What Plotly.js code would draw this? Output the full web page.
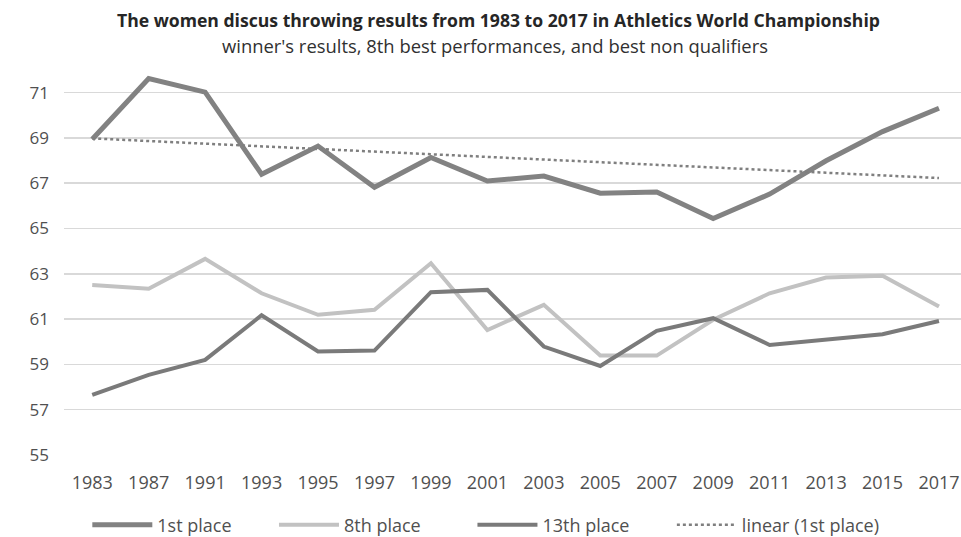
<!DOCTYPE html>
<html>
<head>
<meta charset="utf-8">
<script src="https://cdn.plot.ly/plotly-3.0.1.min.js"></script>
<style>html,body{margin:0;padding:0;background:#fff;}#chart{width:961px;height:537px;}</style>
</head>
<body>
<div id="chart"></div>
<script>
const years = ["1983","1987","1991","1993","1995","1997","1999","2001","2003","2005","2007","2009","2011","2013","2015","2017"];
const first = [68.94,71.62,71.02,67.40,68.64,66.82,68.14,67.10,67.32,66.56,66.61,65.44,66.52,67.99,69.28,70.31];
const eighth = [62.51,62.34,63.66,62.14,61.19,61.41,63.47,60.52,61.63,59.39,59.39,60.97,62.14,62.84,62.91,61.56];
const thirteenth = [57.65,58.54,59.20,61.17,59.57,59.61,62.19,62.29,59.79,58.93,60.48,61.04,59.86,60.08,60.33,60.92];
const trendYears = ["1983","2017"];
const trendValues = [68.98,67.23];
const yTicks = [55,57,59,61,63,65,67,69,71];
const seriesNames = ["1st place","8th place","13th place","linear (1st place)"];
const titleText = "The women discus throwing results from 1983 to 2017 in Athletics World Championship";
const subtitleText = "winner's results, 8th best performances, and best non qualifiers";

const FONT = "'Open Sans', sans-serif";
const pad = n => "\u00a0".repeat(n);
const traces = [
  {x: years, y: first, name: seriesNames[0] + pad(8), type: "scatter", mode: "lines",
   line: {color: "#828282", width: 5}},
  {x: years, y: eighth, name: seriesNames[1] + pad(10), type: "scatter", mode: "lines",
   line: {color: "#c2c2c2", width: 4}},
  {x: years, y: thirteenth, name: seriesNames[2] + pad(8), type: "scatter", mode: "lines",
   line: {color: "#7a7a7a", width: 4}},
  {x: trendYears, y: trendValues, name: seriesNames[3], type: "scatter", mode: "lines",
   line: {color: "#7f7f7f", width: 2.5, dash: "dot"}}
];

const layout = {
  width: 961, height: 537,
  margin: {l: 64, r: 0, t: 70.4, b: 82},
  paper_bgcolor: "#ffffff", plot_bgcolor: "#ffffff",
  font: {family: FONT, color: "#505050", size: 16},
  annotations: [
    {text: "<b>" + titleText + "</b>", xref: "paper", yref: "paper",
     x: (498 - 64) / 897, y: 1 + (70.4 - 20) / 384.6, xanchor: "center", yanchor: "middle",
     showarrow: false, font: {family: FONT, size: 17.6, color: "#262626"}},
    {text: subtitleText, xref: "paper", yref: "paper",
     x: (495 - 64) / 897, y: 1 + (70.4 - 46) / 384.6, xanchor: "center", yanchor: "middle",
     showarrow: false, font: {family: FONT, size: 18.4, color: "#303030"}}
  ],
  xaxis: {
    type: "category", categoryorder: "array", categoryarray: years,
    range: [-0.5, 15.39],
    showgrid: false, zeroline: false, showline: false, ticks: "",
    tickfont: {family: FONT, size: 18, color: "#505050"},
    ticklabelstandoff: 15
  },
  yaxis: {
    range: [55, 72], tickvals: yTicks, ticktext: yTicks.map(String),
    showgrid: true, gridcolor: "#d9d9d9", gridwidth: 1.5,
    zeroline: false, showline: false, ticks: "",
    tickfont: {family: FONT, size: 17, color: "#505050"},
    ticklabelstandoff: 14
  },
  showlegend: true,
  legend: {
    orientation: "h", x: 0.026, xanchor: "left",
    yref: "container", y: (537 - 525) / 537, yanchor: "middle",
    font: {family: FONT, size: 18, color: "#505050"},
    itemwidth: 60, traceorder: "normal"
  }
};

Plotly.newPlot("chart", traces, layout, {displayModeBar: false, staticPlot: true});
</script>
</body>
</html>
